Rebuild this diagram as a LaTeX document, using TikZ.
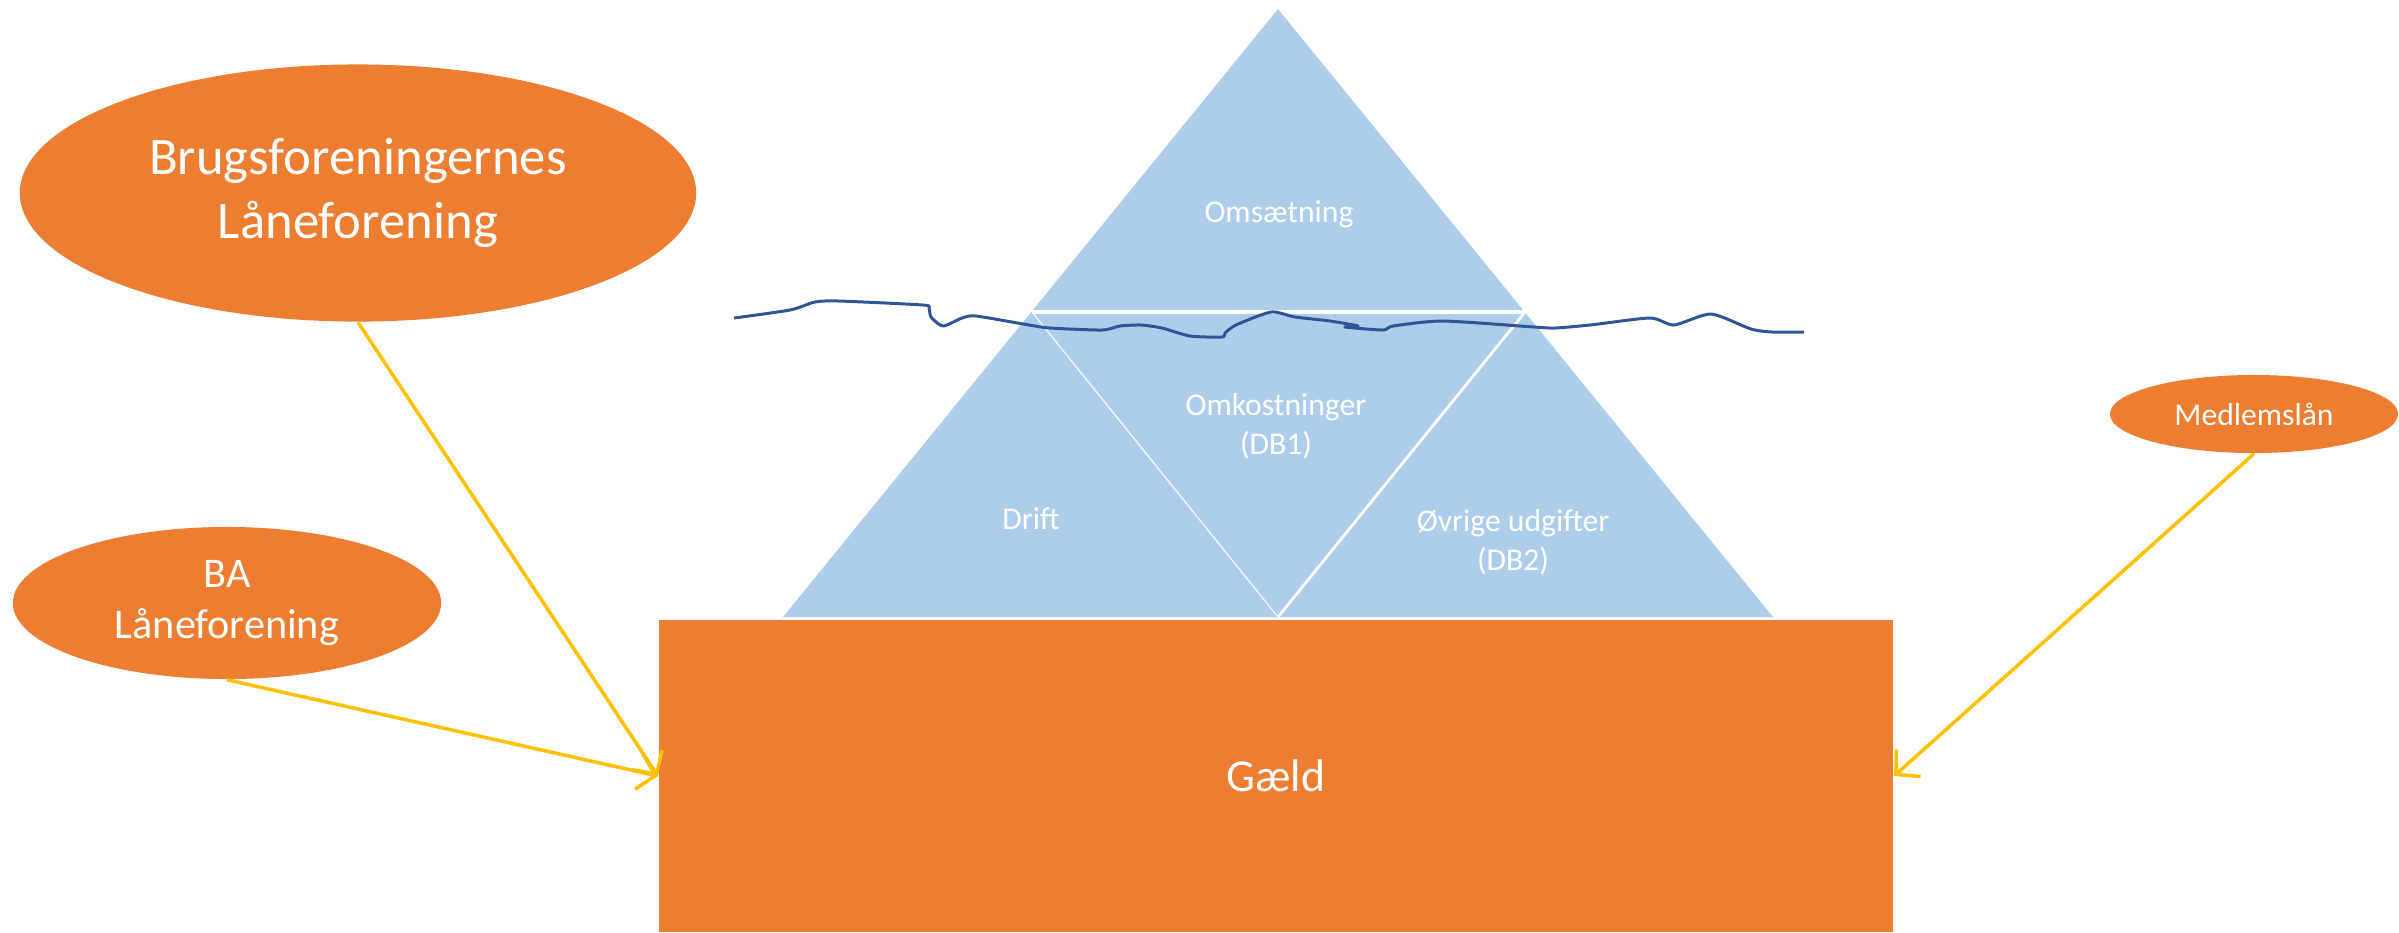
\documentclass[tikz,border=0pt]{standalone}
\usepackage{fontspec}
\setmainfont{Carlito}
\usetikzlibrary{positioning}
\usetikzlibrary{arrows.meta}
\usetikzlibrary{shapes.geometric}
\definecolor{loanorange}{HTML}{ED7D31}
\definecolor{iceblue}{HTML}{AECDEA}
\definecolor{seablue}{HTML}{2F5597}
\definecolor{feedgold}{HTML}{FFC000}
\tikzset{
    lender/.style = {
        ellipse, fill=loanorange, text=white, align=center, inner sep=0pt
    },
    debtbox/.style = {
        rectangle, fill=loanorange, text=white, inner sep=0pt,
        minimum width=12.34cm, minimum height=3.12cm, font=\fontsize{13}{16}\selectfont
    },
    layer/.style = {
        text=white, align=center, inner sep=0pt, font=\fontsize{9}{11}\selectfont
    },
    feed/.style = {
        draw=feedgold, line width=1pt, -{Straight Barb[length=1.7mm, width=3.6mm, line width=1pt]}
    },
}

\begin{document}
\begin{tikzpicture}[x=0.01cm, y=-0.01cm]
        \useasboundingbox (0,0) rectangle (2399,932);

        % Iceberg
        \fill[iceblue] (1278,9) -- (1773,617) -- (783,617) -- cycle;
        \draw[white, line width=1.2pt] (1032,312) -- (1525,312);
        \draw[white, line width=0.3pt] (1032,312) -- (1278,617);
        \draw[white, line width=0.8pt] (1525,312) -- (1278,617);

        % Water line
        \draw[seablue, line width=0.85pt, line join=round] plot[smooth, tension=0.4] coordinates {
            (734,318) (790,310) (815,302) (839,301) (923,305) (929,308) (931,317)
            (943,326) (962,318) (976,316) (1029,325) (1050,328) (1102,330)
            (1120,326) (1141,325) (1162,328) (1190,336) (1222,337) (1225,333)
            (1236,325) (1271,312) (1295,317) (1330,321) (1358,326) (1345,327)
            (1383,330) (1393,326) (1443,321) (1534,327) (1555,328) (1590,325)
            (1650,318) (1674,325) (1711,314) (1751,329) (1772,332) (1804,332)};

        % Place the blocks
        \node[layer] (omsaetning) at (1279,214) {Omsætning};
        \node[layer] (omkost) at (1276,426) {Omkostninger\\(DB1)};
        \node[layer] (drift) at (1031,519) {Drift};
        \node[layer] (oevrige) at (1513,542) {Øvrige udgifter\\(DB2)};

        \node[debtbox] (gaeld) at (1276,776) {Gæld};
        \node[lender, minimum width=6.76cm, minimum height=2.57cm, font=\fontsize{15}{18}\selectfont]
            (brugs) at (358,193) {Brugsforeningernes\\Låneforening};
        \node[lender, minimum width=4.28cm, minimum height=1.52cm, font=\fontsize{12}{14.5}\selectfont]
            (ba) at (227,603) {BA\\Låneforening};
        \node[lender, minimum width=2.88cm, minimum height=0.78cm, font=\fontsize{9}{11}\selectfont]
            (medlem) at (2254,414) {Medlemslån};

        % Draw connections
        \draw[feed] (brugs.south) -- (gaeld.west);
        \draw[feed] (ba.south) -- (gaeld.west);
        \draw[feed] (medlem.south) -- (gaeld.east);
\end{tikzpicture}
\end{document}
